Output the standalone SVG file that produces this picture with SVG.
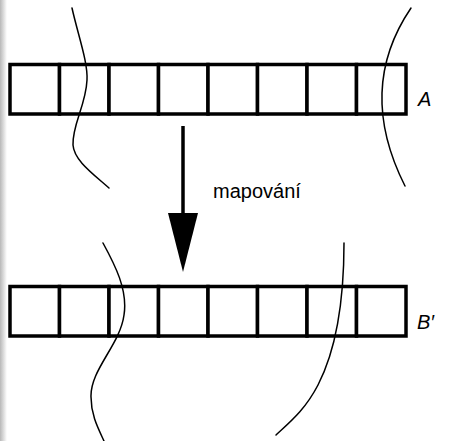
<svg xmlns="http://www.w3.org/2000/svg" width="455" height="441" viewBox="0 0 455 441">
  <style>
    .cell { fill: #ffffff; stroke: #000000; stroke-width: 3.5; }
    .cut { fill: none; stroke: #000000; stroke-width: 1.5; stroke-linecap: round; }
    .label { font-family: "Liberation Sans", Arial, sans-serif; font-size: 20px; fill: #000000; }
    .var { font-style: italic; }
  </style>
  <defs>
    <linearGradient id="edge" x1="0" y1="0" x2="1" y2="0">
      <stop offset="0" stop-color="#b8b8b8"/>
      <stop offset="1" stop-color="#ffffff"/>
    </linearGradient>
    <!-- one row of eight cells, drawn once and reused -->
    <g id="row">
      <rect class="cell" x="10" y="0" width="49.5" height="49.5"/>
      <rect class="cell" x="59.5" y="0" width="49.5" height="49.5"/>
      <rect class="cell" x="109" y="0" width="49.5" height="49.5"/>
      <rect class="cell" x="158.5" y="0" width="49.5" height="49.5"/>
      <rect class="cell" x="208" y="0" width="49.5" height="49.5"/>
      <rect class="cell" x="257.5" y="0" width="49.5" height="49.5"/>
      <rect class="cell" x="307" y="0" width="49.5" height="49.5"/>
      <rect class="cell" x="356.5" y="0" width="49.5" height="49.5"/>
    </g>
  </defs>

  <rect x="0" y="0" width="455" height="441" fill="#ffffff"/>
  <rect x="0" y="0" width="7" height="441" fill="url(#edge)"/>

  <!-- array A -->
  <g id="array-a">
    <use href="#row" y="64.5"/>
    <text class="label var" x="418" y="106">A</text>
  </g>

  <!-- array B' -->
  <g id="array-b">
    <use href="#row" y="286.5"/>
    <text class="label var" x="417" y="329">B′</text>
  </g>

  <!-- boundaries crossing the arrays -->
  <g id="cuts">
    <path class="cut" d="M72,8 C78,35 88,62 87,80 C86,105 72,125 73,145 C74,160 92,173 109,188"/>
    <path class="cut" d="M411,8 Q356,89 405,186"/>
    <path class="cut" d="M103,243 C115,265 128,290 124,315 C120,345 90,370 91,397 C91,415 98,428 104,441"/>
    <path class="cut" d="M344,243 C344,300 336,350 318,385 C305,410 290,422 276,435"/>
  </g>

  <!-- mapping arrow -->
  <g id="connectors">
    <line x1="183" y1="126" x2="183" y2="214" stroke="#000000" stroke-width="3.5"/>
    <polygon points="168,213 198,213 183,272" fill="#000000"/>
    <text class="label" x="213" y="198">mapování</text>
  </g>
</svg>
